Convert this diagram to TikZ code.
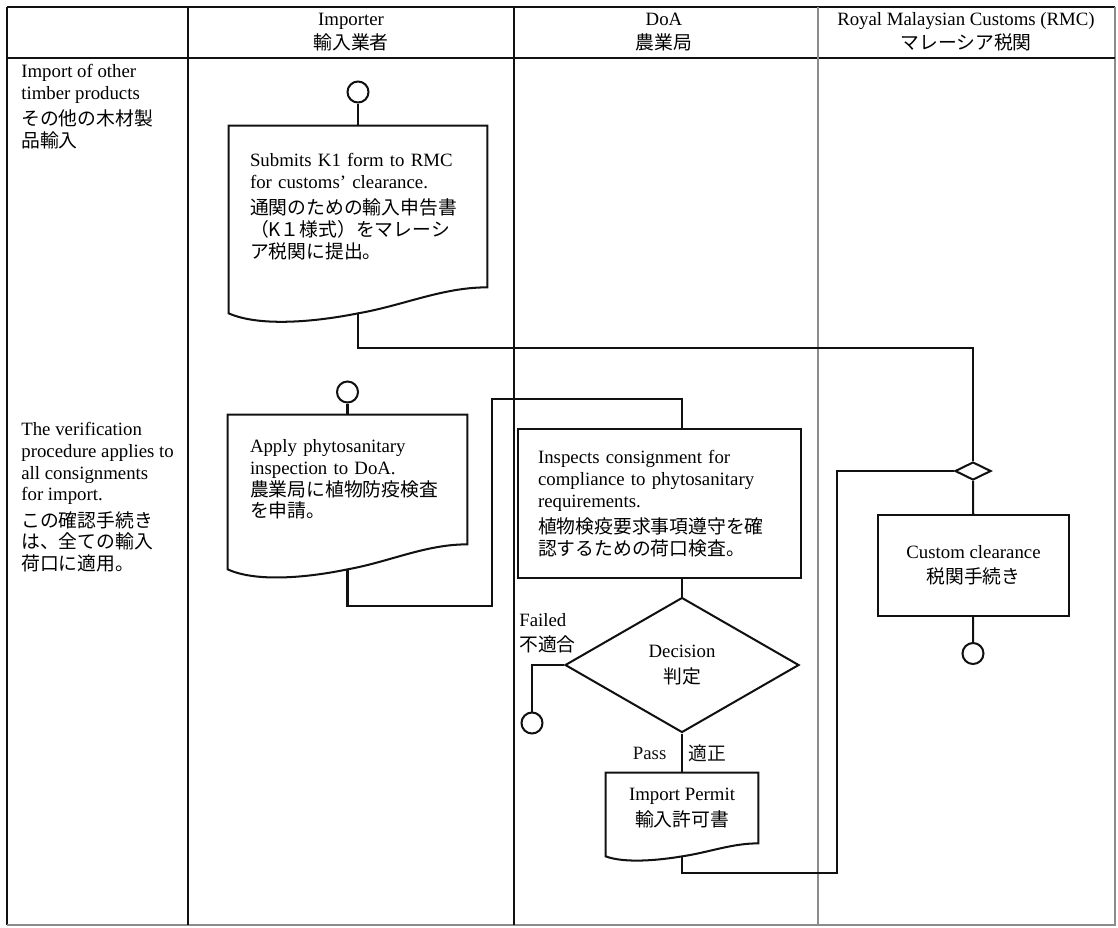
\documentclass[tikz,border=0pt]{standalone}
\usepackage{fontspec}
\setmainfont{Liberation Serif}
\newfontfamily\jpfont{Noto Sans CJK JP}
\usepackage{tikz}
\usetikzlibrary{positioning,shapes.geometric,calc}
\definecolor{ink}{HTML}{111111}
\definecolor{rule}{HTML}{8C8C8C}
\newcommand{\ja}[1]{{\jpfont #1}}
% document symbol: wavy bottom edge hanging below the node, #2 = drop of the left end
\newcommand{\docshape}[2]{%
  \draw[shapeline] (#1.north west) -- (#1.north east) -- (#1.south east)
    .. controls ($(#1.south east)!0.35!(#1.south)$) and ($(#1.south east)!0.65!(#1.south)+(0,0.7*#2)$) .. ($(#1.south)+(0,#2)$)
    .. controls ($(#1.south)!0.3!(#1.south west)+(0,1.3*#2)$) and ($(#1.south)!0.75!(#1.south west)+(0,1.55*#2)$) .. ($(#1.south west)+(0,#2)$)
    -- cycle;}

\begin{document}
\begin{tikzpicture}[
  x=0.02cm, y=-0.02cm,
  font=\fontsize{10.7}{12.4}\selectfont,
  lane/.style={line width=0.6pt,ink},
  head/.style={align=center,inner sep=1pt},
  note/.style={align=left,anchor=north west,inner sep=0pt},
  shapeline/.style={line width=1.15pt,ink},
  docbox/.style={align=left,inner xsep=0pt,inner ysep=2pt},
  procbox/.style={draw=ink,line width=1.15pt,inner ysep=2pt},
  term/.style={circle,draw=ink,fill=white,line width=1.15pt,minimum size=0.42cm,inner sep=0pt},
  decide/.style={diamond,draw=ink,line width=1.15pt,inner sep=0pt,align=center},
  merge/.style={diamond,draw=ink,fill=white,line width=1.15pt,inner sep=0pt,minimum width=0.72cm,minimum height=0.36cm},
  flow/.style={line width=1.15pt,ink}
]
  \useasboundingbox (0,0) rectangle (1118,927);

  % swimlane table
  \draw[lane,line width=0.9pt] (1115,7) -- (7,7);
  \draw[lane] (7,7) -- (7,925);
  \draw[lane,rule] (7,925) -- (1115,925) -- (1115,7);
  \draw[lane,line width=0.9pt] (7,58) -- (1115,58);
  \foreach \x in {188,514}
    \draw[lane] (\x,7) -- (\x,925);
  \draw[lane,rule] (818,7) -- (818,925);

  \node[head] (hImp) at (351,32) {Importer\\[1pt]\ja{輸入業者}};
  \node[head] (hDoA) at (664,32) {DoA\\[1pt]\ja{農業局}};
  \node[head] (hRMC) at (966,32) {Royal Malaysian Customs (RMC)\\[1pt]\ja{マレーシア税関}};

  \node[note] (row1) at (21,64) {Import of other\\timber products\\[2.5pt]\ja{その他の木材製}\\\ja{品輸入}};
  \node[note] (row2) at (21,422) {The verification\\procedure applies to\\all consignments\\for import.\\[2.5pt]\ja{この確認手続き}\\\ja{は、全ての輸入}\\\ja{荷口に適用。}};

  % importer
  \node[term] (start1) at (358,92) {};
  \node[docbox,minimum width=5.16cm,minimum height=3.22cm,text width=4.32cm] (k1) at (358,206.5)
    {Submits K1 form to RMC\\for customs' clearance.\\[2.5pt]\ja{通関のための輸入申告書}\\\ja{（K１様式）をマレーシ}\\\ja{ア税関に提出。}};
  \docshape{k1}{26}

  \node[term] (start2) at (347.5,392) {};
  \node[docbox,minimum width=4.78cm,minimum height=2.58cm,text width=3.9cm] (apply) at (347.5,479.5)
    {Apply phytosanitary\\inspection to DoA.\\\ja{農業局に植物防疫検査}\\\ja{を申請。}};
  \docshape{apply}{25}

  % DoA
  \node[procbox,align=left,minimum width=5.66cm,minimum height=2.98cm,text width=4.86cm] (inspect) at (659.5,503.5)
    {Inspects consignment for\\compliance to phytosanitary\\requirements.\\[2.5pt]\ja{植物検疫要求事項遵守を確}\\\ja{認するための荷口検査。}};
  \node[decide,minimum width=4.68cm,minimum height=2.7cm] (dec) at (682,665) {Decision\\[2pt]\ja{判定}};
  \node[term] (fail) at (532,723) {};
  \node[note] (failed) at (519,613) {Failed\\[2pt]\ja{不適合}};
  \node[docbox,align=center,minimum width=3.04cm,minimum height=1.4cm] (permit) at (682,808)
    {Import Permit\\[2.5pt]\ja{輸入許可書}};
  \docshape{permit}{13}

  % RMC
  \node[merge] (join) at (973,471) {};
  \node[procbox,align=center,minimum width=3.82cm,minimum height=2.02cm] (custom) at (973.5,565.5)
    {Custom clearance\\[2pt]\ja{税関手続き}};
  \node[term] (stop) at (973,653.5) {};

  \draw[flow] (start1) -- (k1);
  \draw[flow] ($(k1.south)+(0,26)$) -- ++(0,35) -| (join.north);
  \draw[flow] (start2) -- (apply);
  \draw[flow] ($(apply.south)+(0,25)$) -- ++(0,37) -- ++(144.5,0) -- ++(0,-207) -| (dec |- inspect.north);
  \draw[flow] (dec |- inspect.south) -- (dec.north);
  \draw[flow] (dec.west) -| (fail.north);
  \draw[flow] (dec.south) -- node[left=5pt]{Pass} node[right=0pt]{\ja{適正}} (permit.north);
  \draw[flow] ($(permit.south)+(0,13)$) -- ++(0,17) -- ++(155,0) |- (join.west);
  \draw[flow] (join) -- (custom);
  \draw[flow] (custom) -- (stop);
\end{tikzpicture}
\end{document}
